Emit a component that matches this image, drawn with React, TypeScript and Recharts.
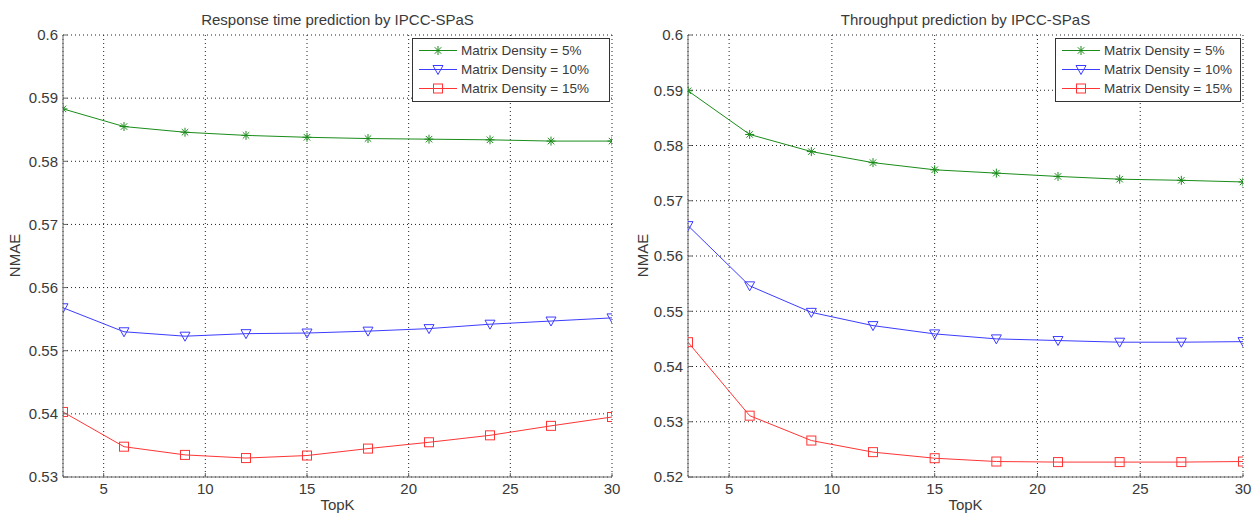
import React from 'react';
import { LineChart, Line, XAxis, YAxis, CartesianGrid } from 'recharts';

const topK = [3, 6, 9, 12, 15, 18, 21, 24, 27, 30];

const rtDensity5 = [0.5883, 0.5855, 0.5846, 0.5841, 0.5838, 0.5836, 0.5835, 0.5834, 0.5832, 0.5832];
const rtDensity10 = [0.5568, 0.5530, 0.5523, 0.5527, 0.5528, 0.5531, 0.5535, 0.5542, 0.5547, 0.5552];
const rtDensity15 = [0.5403, 0.5348, 0.5335, 0.5330, 0.5334, 0.5345, 0.5355, 0.5366, 0.5381, 0.5395];

const tpDensity5 = [0.5899, 0.5820, 0.5789, 0.5769, 0.5756, 0.5750, 0.5744, 0.5739, 0.5737, 0.5734];
const tpDensity10 = [0.5655, 0.5546, 0.5498, 0.5474, 0.5459, 0.5450, 0.5447, 0.5444, 0.5444, 0.5445];
const tpDensity15 = [0.5444, 0.5311, 0.5266, 0.5245, 0.5234, 0.5228, 0.5227, 0.5227, 0.5227, 0.5228];

const xTicks = [5, 10, 15, 20, 25, 30];
const rtYTicks = [0.53, 0.54, 0.55, 0.56, 0.57, 0.58, 0.59, 0.6];
const tpYTicks = [0.52, 0.53, 0.54, 0.55, 0.56, 0.57, 0.58, 0.59, 0.6];

const seriesNames = ['Matrix Density = 5%', 'Matrix Density = 10%', 'Matrix Density = 15%'];
const seriesKeys = ['d5', 'd10', 'd15'];

const GREEN = '#1a8c1a';
const BLUE = '#3c3cff';
const RED = '#ff3535';
const COLORS = [GREEN, BLUE, RED];
const TEXT = '#3a3a3a';
const AXIS = '#666666';
const FONT = '"Liberation Sans", Arial, sans-serif';

function buildRows(a: number[], b: number[], c: number[]) {
  return topK.map((k, i) => ({ k, d5: a[i], d10: b[i], d15: c[i] }));
}

const StarDot = (props: any) => {
  const { cx, cy, stroke } = props;
  if (cx == null || cy == null) return null;
  const r = 4.5;
  const d = r * 0.72;
  return (
    <g stroke={stroke} strokeWidth={1}>
      <line x1={cx - r} y1={cy} x2={cx + r} y2={cy} />
      <line x1={cx} y1={cy - r} x2={cx} y2={cy + r} />
      <line x1={cx - d} y1={cy - d} x2={cx + d} y2={cy + d} />
      <line x1={cx - d} y1={cy + d} x2={cx + d} y2={cy - d} />
    </g>
  );
};

const TriDot = (props: any) => {
  const { cx, cy, stroke } = props;
  if (cx == null || cy == null) return null;
  return (
    <polygon
      points={`${cx - 5},${cy - 4} ${cx + 5},${cy - 4} ${cx},${cy + 5}`}
      fill="none"
      stroke={stroke}
      strokeWidth={1}
    />
  );
};

const SqDot = (props: any) => {
  const { cx, cy, stroke } = props;
  if (cx == null || cy == null) return null;
  return <rect x={cx - 4.5} y={cy - 4.5} width={9} height={9} fill="none" stroke={stroke} strokeWidth={1} />;
};

const DOTS = [StarDot, TriDot, SqDot];

const LegendBox = ({ width }: { width: number }) => (
  <div
    style={{
      width,
      border: '1px solid #333',
      background: '#fff',
      padding: '2px 0 3px 0',
      fontFamily: FONT,
      fontSize: 13.5,
      color: TEXT,
      boxSizing: 'border-box',
    }}
  >
    {seriesNames.map((name, i) => {
      const Dot = DOTS[i];
      return (
        <div key={name} style={{ display: 'flex', alignItems: 'center', height: 19 }}>
          <svg width={48} height={19} style={{ flex: 'none' }}>
            <line x1={6} y1={9.5} x2={44} y2={9.5} stroke={COLORS[i]} strokeWidth={1} />
            <Dot cx={25} cy={9.5} stroke={COLORS[i]} />
          </svg>
          <span style={{ whiteSpace: 'nowrap' }}>{name}</span>
        </div>
      );
    })}
  </div>
);

const fmt = (v: number) => String(Number(v.toFixed(2)));

type PanelProps = {
  left: number;
  width: number;
  yAxisWidth: number;
  rightMargin: number;
  title: string;
  rows: any[];
  yTicks: number[];
  legendWidth: number;
};

const Panel = ({ left, width, yAxisWidth, rightMargin, title, rows, yTicks, legendWidth }: PanelProps) => {
  const height = 515;
  const top = 35;
  const bottom = 477;
  const plotLeft = yAxisWidth;
  const plotRight = width - rightMargin;
  const center = (plotLeft + plotRight) / 2;
  const yMin = yTicks[0];
  const yMax = yTicks[yTicks.length - 1];
  const hiddenTick = () => <g />;
  return (
    <div style={{ position: 'absolute', left, top: 0, width, height }}>
      <LineChart
        width={width}
        height={height}
        data={rows}
        margin={{ top, right: rightMargin, bottom: height - bottom - 30, left: 0 }}
      >
        <CartesianGrid stroke="#222" strokeDasharray="1 3" />
        <XAxis
          dataKey="k"
          type="number"
          domain={[3, 30]}
          ticks={xTicks}
          allowDataOverflow
          height={30}
          stroke={AXIS}
          tickSize={-4}
          tickMargin={10}
          tick={{ fill: TEXT, fontSize: 15, fontFamily: FONT }}
        />
        <XAxis
          xAxisId="top"
          orientation="top"
          dataKey="k"
          type="number"
          domain={[3, 30]}
          ticks={xTicks}
          height={0}
          stroke={AXIS}
          tickSize={-4}
          tick={hiddenTick}
        />
        <YAxis
          type="number"
          domain={[yMin, yMax]}
          ticks={yTicks}
          width={yAxisWidth}
          stroke={AXIS}
          tickSize={-4}
          tickMargin={9}
          tickFormatter={fmt}
          tick={{ fill: TEXT, fontSize: 15, fontFamily: FONT }}
        />
        <YAxis
          yAxisId="right"
          orientation="right"
          type="number"
          domain={[yMin, yMax]}
          ticks={yTicks}
          width={0}
          stroke={AXIS}
          tickSize={-4}
          tick={hiddenTick}
        />
        {seriesKeys.map((key, i) => (
          <Line
            key={key}
            dataKey={key}
            name={seriesNames[i]}
            stroke={COLORS[i]}
            strokeWidth={1}
            dot={DOTS[i]}
            activeDot={false}
            isAnimationActive={false}
          />
        ))}
      </LineChart>
      <div style={{ position: 'absolute', top: top + 3, left: plotRight - legendWidth - 2 }}>
        <LegendBox width={legendWidth} />
      </div>
      <div
        style={{
          position: 'absolute',
          top: 11,
          left: center - 200,
          width: 400,
          textAlign: 'center',
          fontFamily: FONT,
          fontSize: 15,
          color: TEXT,
        }}
      >
        {title}
      </div>
      <div
        style={{
          position: 'absolute',
          top: 496,
          left: center - 50,
          width: 100,
          textAlign: 'center',
          fontFamily: FONT,
          fontSize: 15,
          color: TEXT,
        }}
      >
        TopK
      </div>
      <div
        style={{
          position: 'absolute',
          top: 247,
          left: -26,
          width: 80,
          textAlign: 'center',
          fontFamily: FONT,
          fontSize: 15,
          color: TEXT,
          transform: 'rotate(-90deg)',
        }}
      >
        NMAE
      </div>
    </div>
  );
};

export default function App() {
  const rtRows = buildRows(rtDensity5, rtDensity10, rtDensity15);
  const tpRows = buildRows(tpDensity5, tpDensity10, tpDensity15);
  return (
    <div style={{ position: 'absolute', left: 0, top: 0, width: 1258, height: 515, background: '#fff', overflow: 'hidden' }}>
      <Panel
        left={0}
        width={628}
        yAxisWidth={63}
        rightMargin={16}
        title="Response time prediction by IPCC-SPaS"
        rows={rtRows}
        yTicks={rtYTicks}
        legendWidth={198}
      />
      <Panel
        left={628}
        width={630}
        yAxisWidth={60}
        rightMargin={15}
        title="Throughput prediction by IPCC-SPaS"
        rows={tpRows}
        yTicks={tpYTicks}
        legendWidth={186}
      />
    </div>
  );
}
